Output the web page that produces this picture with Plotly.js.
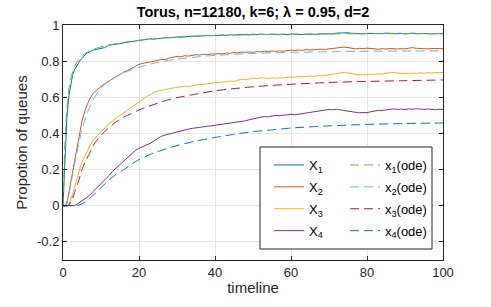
<!DOCTYPE html>
<html>
<head>
<meta charset="utf-8">
<script src="https://cdn.plot.ly/plotly-3.0.1.min.js"></script>
<style>html,body{margin:0;padding:0;background:#fff}#chart{width:491px;height:307px}</style>
</head>
<body>
<div id="chart"></div>
<script>
// Simulation time grid
var tSim = [0,0.5,1,1.5,2,2.5,3,3.5,4,4.5,5,6,7,8,9,10,11,12,13,14,15,16,17,18,19,20,21,22,23,24,25,26,27,28,29,30,31,32,33,34,35,36,37,38,39,40,41,42,43,44,45,46,47,48,49,50,51,52,53,54,55,56,57,58,59,60,61,62,63,64,65,66,67,68,69,70,71,72,73,74,75,76,77,78,79,80,81,82,83,84,85,86,87,88,89,90,91,92,93,94,95,96,97,98,99,100];

var X1 = [0,0.28,0.48,0.6,0.67,0.72,0.75,0.77,0.79,0.805,0.815,0.84,0.852,0.862,0.866,0.87,0.875,0.888,0.89,0.895,0.897,0.902,0.905,0.908,0.912,0.916,0.918,0.92,0.924,0.922,0.926,0.928,0.93,0.929,0.932,0.934,0.933,0.936,0.935,0.938,0.937,0.94,0.939,0.942,0.941,0.944,0.943,0.945,0.942,0.946,0.944,0.947,0.946,0.948,0.946,0.949,0.947,0.95,0.948,0.947,0.95,0.948,0.946,0.949,0.947,0.95,0.948,0.95,0.947,0.949,0.948,0.95,0.949,0.951,0.95,0.952,0.951,0.955,0.957,0.956,0.957,0.954,0.952,0.954,0.951,0.953,0.952,0.954,0.952,0.953,0.955,0.953,0.954,0.952,0.954,0.951,0.953,0.955,0.952,0.954,0.953,0.951,0.953,0.951,0.952,0.952];
var X2 = [0,0,0.01,0.07,0.13,0.19,0.25,0.31,0.37,0.42,0.47,0.54,0.59,0.625,0.645,0.66,0.675,0.69,0.705,0.715,0.725,0.74,0.748,0.76,0.772,0.782,0.788,0.79,0.796,0.8,0.806,0.81,0.808,0.818,0.822,0.826,0.824,0.83,0.828,0.832,0.836,0.834,0.838,0.836,0.84,0.839,0.842,0.84,0.845,0.843,0.848,0.846,0.85,0.848,0.851,0.849,0.853,0.851,0.855,0.853,0.856,0.854,0.857,0.855,0.858,0.861,0.859,0.862,0.86,0.864,0.862,0.864,0.863,0.866,0.865,0.868,0.87,0.872,0.876,0.878,0.875,0.87,0.868,0.871,0.869,0.872,0.87,0.868,0.866,0.869,0.867,0.87,0.868,0.867,0.869,0.868,0.872,0.875,0.871,0.869,0.871,0.868,0.87,0.868,0.87,0.869,0.87];
var X3 = [0,0,0,0.005,0.03,0.06,0.1,0.14,0.18,0.21,0.24,0.29,0.33,0.365,0.39,0.41,0.43,0.455,0.47,0.485,0.505,0.52,0.535,0.55,0.565,0.578,0.59,0.605,0.615,0.628,0.635,0.64,0.645,0.648,0.652,0.655,0.658,0.662,0.66,0.666,0.668,0.672,0.67,0.676,0.678,0.681,0.679,0.684,0.686,0.69,0.688,0.694,0.7,0.697,0.702,0.706,0.703,0.708,0.706,0.704,0.707,0.705,0.708,0.706,0.71,0.712,0.714,0.712,0.716,0.714,0.718,0.716,0.72,0.718,0.722,0.726,0.73,0.734,0.736,0.738,0.735,0.731,0.727,0.724,0.726,0.724,0.728,0.726,0.73,0.728,0.733,0.736,0.738,0.735,0.731,0.733,0.73,0.734,0.732,0.736,0.733,0.737,0.734,0.736,0.735,0.737];
var X4 = [0,0,0,0,0,0,0.002,0.006,0.012,0.02,0.028,0.042,0.058,0.08,0.1,0.122,0.145,0.165,0.19,0.21,0.225,0.245,0.265,0.29,0.305,0.318,0.327,0.336,0.346,0.36,0.372,0.385,0.392,0.398,0.404,0.41,0.414,0.418,0.424,0.428,0.432,0.434,0.436,0.44,0.442,0.445,0.447,0.449,0.452,0.456,0.46,0.462,0.466,0.47,0.476,0.48,0.485,0.49,0.494,0.492,0.496,0.5,0.498,0.502,0.504,0.506,0.503,0.506,0.51,0.512,0.516,0.52,0.524,0.527,0.53,0.533,0.531,0.534,0.53,0.527,0.522,0.518,0.516,0.514,0.516,0.515,0.52,0.524,0.528,0.527,0.531,0.534,0.536,0.533,0.535,0.532,0.536,0.534,0.537,0.535,0.533,0.536,0.534,0.531,0.534,0.533];

// ODE time grid
var tOde = [0,0.5,1,1.5,2,2.5,3,4,5,6,7,8,10,12,14,16,18,20,22.5,25,27.5,30,35,40,45,50,55,60,70,80,90,100];
var x1ode = [0,0.34,0.53,0.64,0.7,0.74,0.77,0.805,0.828,0.845,0.857,0.866,0.879,0.889,0.897,0.904,0.91,0.915,0.921,0.926,0.93,0.933,0.938,0.942,0.944,0.946,0.948,0.949,0.951,0.952,0.952,0.953];
var x2ode = [0,0,0.02,0.06,0.11,0.17,0.22,0.33,0.42,0.49,0.545,0.59,0.65,0.69,0.715,0.735,0.752,0.766,0.781,0.793,0.803,0.811,0.823,0.832,0.838,0.843,0.846,0.849,0.852,0.855,0.856,0.857];
var x3ode = [0,0,0,0.005,0.02,0.04,0.07,0.13,0.2,0.25,0.29,0.335,0.39,0.43,0.465,0.49,0.51,0.53,0.55,0.568,0.585,0.598,0.618,0.636,0.648,0.658,0.666,0.672,0.682,0.688,0.692,0.696];
var x4ode = [0,0,0,0,0,0,0,0.003,0.01,0.025,0.042,0.06,0.1,0.14,0.175,0.2,0.23,0.255,0.28,0.3,0.318,0.333,0.358,0.378,0.395,0.41,0.42,0.43,0.442,0.45,0.455,0.458];

var simNames = ['X<sub>1</sub>','X<sub>2</sub>','X<sub>3</sub>','X<sub>4</sub>'];
var odeNames = ['x<sub>1</sub>(ode)','x<sub>2</sub>(ode)','x<sub>3</sub>(ode)','x<sub>4</sub>(ode)'];
var simColors = ['#0072BD','#D95319','#EDB120','#7E2F8E'];
var odeColors = ['#77AC30','#4DBEEE','#A2142F','#0072BD'];
var yTickVals = [-0.2,0,0.2,0.4,0.6,0.8,1];
var yTickText = ['-0.2','0','0.2','0.4','0.6','0.8','1'];
var xTickVals = [0,20,40,60,80,100];

var sims = [X1,X2,X3,X4];
var odes = [x1ode,x2ode,x3ode,x4ode];
var data = [];
for (var i=0;i<4;i++){
  data.push({x:tSim,y:sims[i],type:'scatter',mode:'lines',name:simNames[i],
    legend:'legend', legendgroup:'s'+i,
    line:{color:simColors[i],width:1}});
}
for (var j=0;j<4;j++){
  data.push({x:tOde,y:odes[j],type:'scatter',mode:'lines',name:odeNames[j],
    legend:'legend2', legendgroup:'o'+j,
    line:{color:odeColors[j],width:1,dash:'9px,5px',shape:'spline',smoothing:0.6}});
}

var FONT = 'Liberation Sans, Arial, sans-serif';
var axisCommon = {
  showline:true, linecolor:'#262626', linewidth:1, mirror:'ticks',
  ticks:'inside', ticklen:4, tickcolor:'#262626',
  showgrid:true, gridcolor:'#e6e6e6', gridwidth:1, zeroline:false,
  tickfont:{family:FONT, size:13, color:'#262626'}
};

// plot area in pixels: x 63..443, y 25..260
var PX0=63, PX1=443, PY0=25, PY1=260;
function px(xp){return (xp-PX0)/(PX1-PX0);}
function py(yp){return (PY1-yp)/(PY1-PY0);}

var legendCommon = {
  orientation:'v', bgcolor:'rgba(0,0,0,0)', borderwidth:0,
  font:{family:FONT, size:13, color:'#000'}, tracegroupgap:2,
  yanchor:'top', xanchor:'left', traceorder:'grouped'
};

var layout = {
  width:491, height:307,
  margin:{l:63, r:48, t:25, b:47},
  paper_bgcolor:'#fff', plot_bgcolor:'#fff',
  font:{family:FONT, color:'#262626'},
  title:{text:'<b>Torus, n=12180, k=6; λ = 0.95, d=2</b>', font:{size:14.5, color:'#000'},
    x:253/491, xanchor:'center', y:1-12/307, yanchor:'middle', yref:'container'},
  xaxis:Object.assign({}, axisCommon, {range:[0,100], tickvals:xTickVals,
    title:{text:'timeline', font:{size:15, color:'#262626'}, standoff:3}}),
  yaxis:Object.assign({}, axisCommon, {range:[-0.3,1], tickvals:yTickVals, ticktext:yTickText,
    title:{text:'Propotion of queues', font:{size:15, color:'#262626'}, standoff:5}}),
  showlegend:true,
  shapes:[{type:'rect', xref:'paper', yref:'paper', x0:px(260), x1:px(432), y0:py(249), y1:py(147),
    line:{color:'#262626', width:1}, fillcolor:'#fff', layer:'above'}],
  legend:Object.assign({}, legendCommon, {x:px(269), y:py(150)}),
  legend2:Object.assign({}, legendCommon, {x:px(345), y:py(150)})
};

Plotly.newPlot('chart', data, layout, {staticPlot:true, displayModeBar:false});
</script>
</body>
</html>
